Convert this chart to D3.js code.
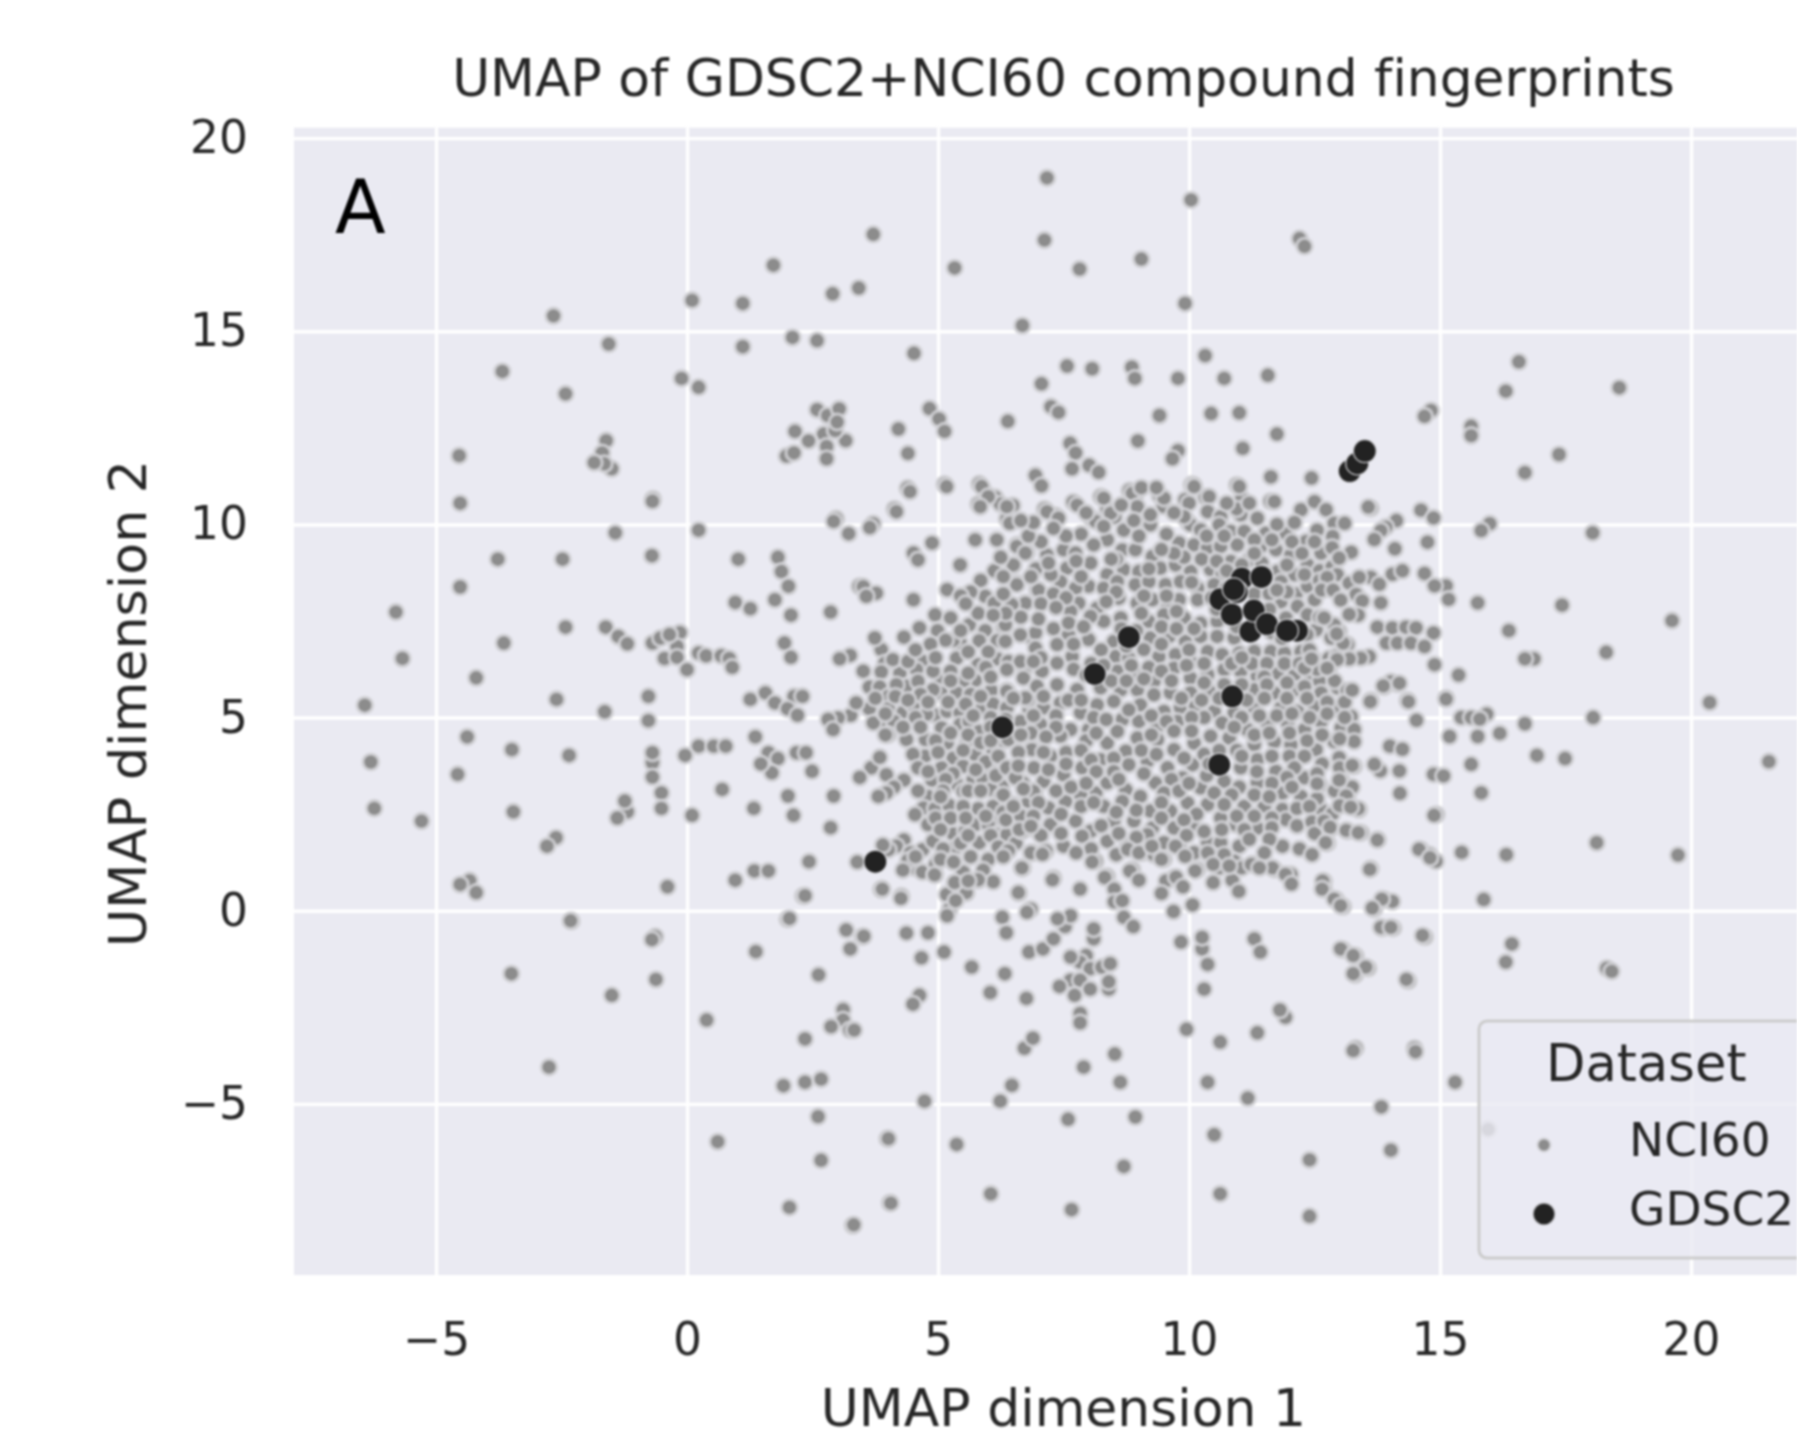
<!DOCTYPE html>
<html>
<head>
<meta charset="utf-8">
<style>
  html, body { margin: 0; padding: 0; background: #fff; overflow: hidden; }
  svg { display: block; filter: blur(1px); }
  text { font-family: "DejaVu Sans", sans-serif; fill: #262626; font-variant-ligatures: none; }
</style>
</head>
<body>
<svg id="chart" width="1797" height="1433"></svg>
<script src="https://cdn.jsdelivr.net/npm/d3@7"></script>
<script>
// UMAP coordinates, grouped by area of the plot
const nciUpper = [[7.17,18.97],[10.04,18.4],[7.12,17.36],[3.71,17.51],[12.2,17.4],[12.3,17.2],[1.72,16.71],[5.33,16.64],[7.82,16.61],[9.05,16.87],[.1,15.8],[1.11,15.72],[2.9,15.97],[3.42,16.12],[9.92,15.72],[6.68,15.15],[-2.66,15.4],[-1.56,14.67],[1.11,14.6],[2.1,14.84],[2.59,14.76],[4.52,14.43],[-3.68,13.96],[-.11,13.78],[.23,13.55],[-2.42,13.38],[7.57,14.1],[8.07,14.03],[8.86,14.07],[8.92,13.78],[7.06,13.64],[9.78,13.78],[7.25,13.05],[7.4,12.9],[9.41,12.82],[6.39,12.67],[4.83,13],[5.02,12.73],[5.13,12.41],[4.21,12.47],[4.4,11.84],[4.39,10.94],[5.13,11.04],[4.13,10.4],[2.97,10.15],[3.71,10.02],[-.68,10.66],[-1.61,12.17],[-1.69,11.85],[-1.5,11.44],[-1.65,11.57],[-1.85,11.6],
  [2.59,12.97],[2.8,12.82],[3.03,12.99],[2.15,12.41],[2.72,12.34],[2.42,12.16],[3.16,12.17],[2.78,12.02],[1.98,11.77],[2.13,11.85],[2.95,12.43],[2.78,11.7],[2.99,12.65],
  [7.63,12.1],[7.74,11.85],[7.67,11.44],[8.01,11.53],[8.2,11.35],[8.98,12.16],[9.78,11.91],[9.67,11.7],[6.94,11.27],[7.06,11],[5.82,11.05],[5.95,10.79],[6.14,10.7],[5.8,10.53],[6.24,10.53],[6.49,10.49],[6.37,10.15],[7.12,10.4],[7.34,10.23],[7.69,10.58],[8.24,10.72],[8.37,10.4],[8.52,10.19],[8.06,10.15],[8.81,10.88],[8.92,10.71],[9.41,10.75],[9.49,10.47],[9.92,10.64],[10.05,11.03],[9.16,10.06],[9.98,10.06],
  [10.32,14.37],[10.7,13.78],[11.57,13.86],[10.44,12.87],[11,12.89],[11.75,12.34],[11.07,11.97],[11.63,11.23],[12.44,11.2],[10.95,11.02],[11.05,10.67],[11.62,10.6],[10.09,11.02],[10.32,10.71]];

const nciLeft = [[-4.54,11.78],[-4.52,10.55],[-1.43,9.78],[.23,9.85],[-3.77,9.1],[-2.48,9.1],[-.7,9.19],[-.69,10.6],[1.02,9.1],[1.81,9.15],[1.88,8.78],[2.02,8.4],[1.75,8.05],[2.07,7.65],[2.92,10.08],[3.22,9.76],[3.64,9.92],[3.43,8.4],[2.86,7.73],[.96,7.98],[1.26,7.82],[-4.52,8.38],[-5.8,7.73],[-5.67,6.53],[-6.42,5.32],[-2.42,7.34],[-3.65,6.93],[-4.2,6.03],[-2.6,5.47],[-1.64,5.15],[-.77,5.55],[-.77,4.92],
  [-1.62,7.34],[-1.37,7.1],[-1.19,6.91],[-.69,6.93],[-.14,7.2],[-.2,6.84],[-.45,6.53],[-.2,6.56],[0,6.24],[-.53,7.06],[-.35,7.15],[.23,6.67],[.38,6.6],[.68,6.6],[.84,6.53],[.9,6.3],[1.94,6.93],[2.07,6.56],[1.26,5.47],[1.56,5.64],[1.75,5.38],[2.13,5.55],[2,5.23],[2.2,5.06],[2.3,5.55],
  [-4.38,4.5],[-3.49,4.17],[-2.35,4.02],[.23,4.26],[.53,4.26],[.77,4.26],[-.04,4.02],[1.36,4.5],[-.69,3.83],[-.69,4.09],[-.69,3.46],[-.51,3.05],[-.51,2.65],[-6.3,3.85],[-4.57,3.53],[-6.23,2.65],[-5.29,2.32],[-3.46,2.56],[-1.19,2.56],[-1.24,2.84],[-1.39,2.4],[.1,2.47],[.7,3.14],[1.33,2.65],[2.12,2.47],[2.01,2.97],[2.92,2.97],[2.86,2.15],[-2.61,1.89],[-2.79,1.67],[-4.33,.78],[-4.2,.47],[-4.52,.68],[-.39,.62],[1.34,1.03],[.96,.79],[1.62,1.03],[2.43,1.27],[3.39,1.26],[2.31,.38],[2,-.22],[-2.3,-.27],
  [1.62,4.09],[1.81,3.94],[2.18,4.09],[1.69,3.57],[1.47,3.8],[2.37,4.09],[2.49,3.61],
  [-2.32,-.26],[-.63,-.67],[-.7,-.75],[-3.5,-1.63],[-.62,-1.78],[-1.5,-2.19],[.39,-2.83],[-2.75,-4.05],[2.35,-3.32],[3.11,-2.56],[3.11,-2.83],[2.87,-3],[3.24,-3.09],[2.62,-1.66],[1.37,-1.06],[2.04,-.2],[3.17,-.5],[3.49,-.67],[3.25,-.99],[2.35,.39],[3.87,.56],[1.92,-4.53],[2.35,-4.44],[2.67,-4.36],[2.61,-5.33],[.61,-5.98],[3.99,-5.9],[2.67,-6.46],[2.04,-7.68],[4.04,-7.56],[3.3,-8.15],[3.52,-.66]];

const nciBlobLeft = [[4.44,10.85],[5.17,10.98],[5.87,10.98],[6,10.72],[6.37,10.46],[6.43,10.03],[5.84,10.46],[4.17,10.33],[4.88,9.52],[4.51,9.26],[4.6,9.08],[5.74,9.6],[6.17,9.6],[6.57,9.47],[6.77,9.28],[5.44,8.95],[6.12,8.8],[6.5,8.95],[6.57,8.48],[3.51,8.39],[3.77,8.22],[3.57,8.14],[4.51,8.05],[5.18,8.31],[5.94,8.14],[6.12,7.96],[6.47,7.9],[6.73,7.96],[6.97,8.31],
  [4.94,7.66],[5.25,7.58],[5.62,7.4],[5.94,7.25],[6.3,7.33],[4.63,7.32],[4.99,7.25],[4.32,7.08],[5.44,6.93],[5.82,6.99],[6.18,6.99],[6.87,7.06],[3.87,6.76],[3.74,7.06],[3.25,6.61],[3.04,6.52],[5.37,6.54],[6.18,6.52],[6.4,6.45],[6.73,6.28],[5.8,6.37],[4.7,6.45],[3.94,6.41],
  [3.51,6.2],[3.87,6.18],[4.24,6.15],[4.57,6.24],[5.07,5.96],[5.74,5.96],[6.06,5.7],[6.37,5.7],[5.5,5.94],[3.63,5.79],[3.84,5.79],[4.37,5.81],[4.01,5.55],[5.06,5.64],[5.37,5.64],[4.9,5.72],[4.17,5.85],[4.6,5.94],
  [3.63,5.23],[4.01,5.23],[4.31,5.14],[4.51,5.31],[4.94,5.06],[5.18,5.16],[5.44,5.12],[5.87,5.23],[6.82,5.2],[6.8,5.46],[4.77,5.08],[3.26,5.06],[3.01,4.99],[2.81,4.95],[2.91,4.69],[3.37,5.38],[3.94,4.82],[4.12,4.9],[3.71,4.86],[5.44,4.82],[5.62,4.9],[5.82,4.64],[5.07,4.73],[6.8,4.73],
  [4.01,4.56],[4.37,4.43],[4.75,4.43],[5.18,4.34],[5.57,4.34],[6.5,4.47],[6.87,4.21],[4.74,4],[5.3,3.95],[6.37,3.7],[5.74,4.04],[6.1,4.13],[6.57,3.7],[5.07,3.7],[6.05,3.61],[5.5,3.74],[5.7,3.39],[4.88,3.38],[5.37,3.28],[5.9,3.39],[6.27,3.22],[6.69,3.31],[6.93,3.09],
  [3.67,3.7],[3.44,3.45],[3.97,3.52],[3.84,3.97],[4.32,3.38],[4.12,3.2],[3.97,3.05],[3.81,2.96],[4.8,2.96],[6.05,3.14],[6.49,2.75],[5.5,3.09],[6.8,2.83],[4.71,2.66],[4.94,2.64],[5.22,2.73],[5.8,2.64],[4.54,2.49],[4.8,2.23],[6.18,2.4],[5.3,1.99],[5.54,2.06],[5.74,2.23],[6,2.23],[6.18,1.97],[6.37,1.97],[6.67,2.08],[6.87,2.14],
  [4.32,1.83],[4.17,1.67],[4.01,1.58],[4.69,1.58],[4.9,1.8],[5.82,1.76],[5.34,1.63],[6,1.33],[5.04,1.33],[5.3,1.27],[6.87,1.5],[4.54,1.11],[4.69,1],[4.94,.94],[6.69,1.11],[5.34,.7],[5.57,.76],[5.8,.79],[3.87,.55],[5.56,.46],[4.27,.38],[6.61,.46],[5.17,.42]];

const nciBlobLeftGaps = [[5.3,7],[5.6,6.7],[6,6.7],[5.25,6.2],[5.6,6.15],[5.95,6.3],[6.05,6.05],[4.1,6.5],[4.4,6.45],[4.9,6.2],[5.25,5.95],[6.1,5.35],[5.65,5.6],[5.85,5.55],[4.65,5.6],[4.15,5.55],[3.75,5.5],[4.8,5.4],[5.2,5.4],[5.55,5.35],[4.4,5.45],[3.95,5.1],[4.55,5],[5.7,5.05],[6.05,5],[3.95,4.55],[4.3,4.75],[4.65,4.75],[5.25,4.6],[5.6,4.55],[6.05,4.75],[6.3,4.4],[4.95,4.4],[5.85,4.35],[6.05,4.4],[5,4.1],[5.5,4.15],[5.95,3.85],[6.2,4],[4.5,4.05],[4.6,3.7],[4.8,3.6],[5.3,3.55],[5.75,3.65],[6.15,3.5],[5.15,3.4],[5.6,3.1],[5.85,3.1],[6.25,2.95],[5.1,3.1],[4.6,3.1],[5.05,2.95],[5.5,2.7],[6.1,2.7],[6.3,2.55],[4.95,2.4],[5.25,2.4],[5.55,2.4],[5.95,2.45],[6.35,2.35],[6.65,2.45],[5.05,2.1],[5.45,1.75],[5.6,1.95],[6.05,1.95],[6.55,1.75],[6.2,1.65],[4.45,1.5],[5.1,1.6],[5.65,1.4],[6.4,1.55],[5.9,1.05],[6.3,1.4],[4.4,1.3],[4.95,1.2],[5.5,1],[6.1,.75],[3.9,1.7],[4.3,1.05],[4.55,1.4]];

const nciCore = [[7.77,10.5],[7.17,10.33],[7.4,10.16],[8.3,10.68],[8.44,10.29],[8.14,10.08],[8.87,10.81],[9.5,10.68],[10,10.55],[10.1,10.98],[11,10.98],[10.4,10.72],[11.7,10.59],[12.23,10.38],[12.5,10.59],[12.73,10.38],[12.89,10.03],[12.86,9.69],[13.1,10.03],
  [9.23,9.99],[10.03,9.99],[10.37,10.33],[11.03,10.25],[11.36,10.16],[10.63,10.2],[8.97,10.46],[9.23,10.25],[10.23,9.86],[10.6,9.99],[10.83,9.82],[11.1,9.82],[11.53,9.77],[11.93,9.77],
  [6.57,9.43],[6.74,9.26],[7.17,9.21],[7.5,9.34],[7.74,9.26],[8.37,9.6],[8.1,9.47],[8.67,9.34],[8.93,9.34],[9.27,9.17],[9.8,9.52],[10.1,9.47],[10.37,9.39],[10.63,9.43],[10.96,9.47],[11.43,9.43],[11.73,9.34],[12.03,9.21],[12.33,9.56],[12.63,9.26],
  [6.5,8.95],[7.57,8.87],[8.04,9],[8.37,8.7],[8.7,8.83],[9,8.78],[9.43,8.87],[9.73,8.95],[10.03,8.78],[10.43,8.83],[10.83,9.04],[10.66,8.7],[11.2,9.08],[12.36,8.95],[12.1,8.7],[11.76,8.78],
  [7.44,8.52],[8,8.4],[7.74,8.35],[6.57,8.44],[7,8.3],[8.3,8.35],[8.57,8.52],[8.93,8.44],[9.2,8.52],[9.53,8.44],[9.83,8.52],[10.17,8.35],[10.5,8.44],[12.13,8.2],[11.83,8.52],[12.36,8.4],[12.66,8.31],
  [6.74,7.96],[6.47,7.92],[7.8,7.96],[8.17,7.83],[8.6,8.09],[8.97,7.96],[9.27,8.05],[9.8,8.05],[9.57,7.83],[10.17,8.05],[11.83,8],[12.16,7.88],[12.5,8.05],[7.64,7.75],
  [12.36,7.66],[8.64,7.58],[8.3,7.49],[8.04,7.62],[7.3,7.3],[6.94,7.19],[6.34,7.4],[9.2,7.49],[9.5,7.66],[9.9,7.58],[10.23,7.44],[10.56,7.49],[11.93,7.58],
  [6.64,7.14],[7.6,7.14],[8,7.02],[8.5,6.97],[9.23,7.06],[9.6,7.1],[9.93,6.97],[10.23,7.1],[10.56,7.1],[10.9,7.06],[12.53,7.27],[12.83,7.06],[12.99,7.23],[13.16,6.89],[12.89,7.4],
  [6.34,6.97],[6.94,6.8],[7.37,6.89],[7.67,6.58],[8.54,6.58],[8.8,6.54],[9.1,6.76],[9.4,6.58],[9.73,6.63],[10.03,6.45],[10.37,6.71],[10.66,6.63],[11,6.67],[11.3,6.71],[11.63,6.71],[11.9,6.67],[12.23,6.71],[12.5,6.5],[12.79,6.54],
  [6.64,6.45],[7.37,6.41],[7.07,6.2],[6.37,6.24],[8.57,6.2],[8.93,6.15],[9.3,5.94],[9.7,6.28],[10.03,6.02],[10.37,6.11],[10.7,6.24],[11.03,6.2],[11.36,6.07],[11.76,6.15],[12.1,6.11],[12.43,6.02],[12.79,6.28],[12.6,5.94],
  [6.37,5.68],[6.7,6.02],[6.97,5.81],[7.37,5.85],[7.77,5.72],[8.24,5.77],[8.64,5.72],[8.97,5.72],[9.3,5.59],[9.63,5.64],[10.03,5.64],[10.4,5.68],[11.3,5.72],[11.7,5.64],[12.1,5.72],[12.63,5.64],[12.96,5.77],
  [6.37,5.25],[6.74,5.51],[7.1,5.25],[7.44,5.38],[7.84,5.12],[8.17,5.33],[8.5,5.42],[9.03,5.33],[9.5,5.16],[9.83,5.25],[10.13,5.29],[10.5,5.16],[10.9,5.12],[11.3,5.25],[11.83,5.25],[12.16,5.16],[12.5,5.29],[12.89,5.25],[13.23,5.03],
  [6.64,4.9],[7.04,4.82],[7.64,4.69],[8,4.69],[8.67,4.95],[9,4.9],[9.37,4.77],[9.77,4.9],[10.3,5],[10.66,4.86],[11.16,4.69],[11.56,4.86],[11.96,4.86],[12.3,4.69],[12.63,4.9],[13.03,4.73],[13.29,4.69],
  [6.87,4.17],[6.4,4.43],[7.44,4.52],[8.37,4.34],[8.57,4.64],[8.97,4.47],[9.37,4.43],[9.7,4.17],[10.1,4.34],[10.43,4.52],[10.8,4.47],[11.3,4.3],[11.7,4.38],[12.03,4.3],[12.53,4.17],[12.89,4.38],[13.29,4.38],
  [6.37,3.7],[6.91,3.7],[7.24,4],[7.87,3.7],[8.24,3.91],[8.74,4.13],[8.8,3.78],[9.17,3.87],[9.57,3.7],[10.07,3.78],[11.03,3.7],[11.36,3.91],[11.73,3.61],[12,4],[12.3,3.44],[12.99,3.96],[13.29,3.74],
  [6.54,3.44],[7.1,3.35],[7.5,3.52],[8.14,3.05],[8.37,3.31],[8.74,3.13],[9.03,2.96],[9.33,3.31],[9.87,3.44],[10.23,3.18],[10.7,3.35],[11,3.2],[11.36,3.31],[11.86,3.05],[12.23,2.96],[12.6,3.26],[13.03,3.39],
  [6.3,3],[6.5,2.7],[6.9,3.09],[7.2,2.66],[7.54,2.83],[7.84,3],[8.3,2.7],[8.67,2.83],[9.23,2.58],[9.63,2.58],[9.97,2.79],[10.37,2.75],[10.63,2.4],[11.1,2.7],[11.5,2.7],[11.86,2.62],[12.63,2.62],[13.16,2.96],[13.03,2.75],[13.39,2.62],
  [7.24,2.23],[7.74,2.32],[8.04,2.06],[8.5,2.32],[8.9,2.32],[9.27,2.14],[9.7,2.14],[10.07,2.23],[10.93,2.23],[11.36,2.14],[11.93,2.36],[12.83,2.14],[13.16,2.06],[13.43,2.02],[13.76,1.84],
  [6.87,2.14],[6.67,2.06],[7.5,1.67],[7.87,1.93],[8.37,1.8],[8.77,1.67],[9.17,1.97],[9.5,1.76],[9.8,1.67],[10.37,1.76],[10.63,1.76],[11,1.67],[11.86,1.67],[12.76,1.75],
  [6.87,1.5],[6.67,1.11],[8.14,1.28],[8.87,1.07],[9.07,1.5],[9.5,1.33],[10.17,1.07],[10.43,1.45],[10.6,1.11],[10.9,1.28],[11.3,1.2],[11.7,1.07],[12.03,.94],[7.3,.85],[8.37,.89],[9.7,.85]];

const nciCoreGaps = [[8.7,9.85],[9,9.7],[9.55,9.75],[9.9,10.2],[10.95,10.4],[11.3,9.6],[11.75,10],[12.1,10.05],[12.55,9.85],[7.85,9.75],[7.55,9.7],[8.9,10.1],
  [6.95,8.85],[7.25,8.7],[7.85,8.65],[8.55,9.1],[9.2,8.85],[9.9,9.15],[10.25,9.1],[10.55,9.05],[11.05,8.95],[11.45,9],[11.95,8.95],[12.6,8.8],[12.85,8.9],[6.85,8.65],[7.2,9],
  [7.3,8.2],[7.55,8.1],[8.55,8.25],[9.1,8.15],[9.55,8.15],[10.45,8.1],[10.75,8.35],[11.3,8.2],[11.6,8.2],[11.95,8.25],[6.3,8.2],[7.05,7.95],[7.35,7.85],[8.35,8],[9.05,7.7],[9.75,7.75],[10.55,7.8],[10.85,7.55],[11.6,7.8],[12.1,7.35],[12.35,7.15],[12.6,7.6],[7,7.55],[7.6,7.45],[7.9,7.35],[8.65,7.3],[8.95,7.25],[9.45,7.35],[9.75,7.3],[10.1,7.3],[10.95,7.35],[11.65,7.2],[11.85,7.05],[6.65,7.6],[6.35,7.7],
  [7.05,6.55],[7.7,6.9],[8.25,6.75],[8.05,6.4],[8.3,6.35],[8.75,6.85],[9.45,6.9],[10,6.75],[10.85,6.4],[11.25,6.4],[11.55,6.4],[11.9,6.4],[12.2,6.4],[12.55,6.25],[12.95,6.6],[12.4,6.75],[7.7,6.25],[7.95,6.1],[8.85,6.35],[9.2,6.3],[9.45,6.2],[9.95,6.35],[10.3,6.4],[11.05,6.55],[11.5,6.05],[12.3,6.28],[6.9,6.45],
  [7.1,5.55],[7.6,5.45],[7.85,5.45],[8.45,5.95],[8.75,5.95],[9.1,6],[9.65,5.95],[10.3,5.9],[10.7,5.85],[11.05,5.85],[11.55,5.85],[11.95,5.9],[12.3,5.8],[12.9,5.95],[13.15,5.7],[9.85,5.5],[10.25,5.45],[10.6,5.5],[11.15,5.45],[11.5,5.5],[11.95,5.5],[12.35,5.5],[12.75,5.4],[13.1,5.4],[6.5,5.5],
  [7.35,5.05],[6.9,5.05],[8.1,5],[8.35,4.95],[8.8,5.2],[9.25,5.05],[9.55,4.9],[10.05,5],[11.05,5],[11.4,5.05],[11.75,5.05],[12.05,5.1],[12.4,5],[12.75,5.1],[13.1,5],[6.35,4.95],[7.35,4.75],[6.85,4.6],[7.15,4.5],[7.95,4.4],[8.15,4.6],[9.25,4.55],[9.7,4.65],[10.05,4.65],[10.9,4.75],[11.3,4.55],[11.6,4.6],[12,4.6],[12.35,4.4],[12.65,4.55],[13,4.45],[6.65,4.55],
  [6.6,4.1],[7.1,4.1],[7.55,4.1],[7.85,4.15],[8.05,3.9],[8.5,3.95],[9.05,4.15],[9.35,4.05],[9.9,3.95],[10.3,4.05],[10.6,4.15],[10.95,4.15],[11.05,4],[11.65,4],[12.3,4],[12.65,3.8],[13,3.7],[12.1,3.7],[11.95,3.45],[6.6,3.75],[7.2,3.65],[7.55,3.8],[8.15,3.6],[8.5,3.6],[9.1,3.55],[9.65,3.4],[10.35,3.5],[10.4,3.8],[11.35,3.6],[11.65,3.3],[12.55,3.55],
  [6.7,3.15],[7.35,3.1],[7.65,3.2],[7.95,3.3],[8.6,3.4],[9.5,3.05],[9.8,3.1],[10,3.3],[10.5,3.05],[10.85,3],[11.3,3],[11.6,2.95],[12.05,3.2],[12.55,2.9],[12.9,3.1],[13.25,3.2],[7,2.8],[7.85,2.7],[8.1,2.8],[8.55,2.55],[8.95,2.6],[9.45,2.8],[10.15,2.5],[10.7,2.75],[10.95,2.45],[11.3,2.45],[11.65,2.4],[12.15,2.65],[12.4,2.7],[12.85,2.5],[6.9,2.45],[7.45,2.5],
  [7.45,2],[7.05,1.95],[8.25,2.2],[8.6,2],[8.95,1.9],[9.45,2.4],[9.9,2.35],[9.95,1.95],[10.3,2.05],[10.65,2.1],[11.1,2.1],[11.2,1.85],[11.65,2.15],[11.6,1.85],[12.15,2.2],[12.45,2.3],[12.5,2],[8.05,1.6],[8.55,1.45],[9.3,1.45],[10.1,1.5],[10.7,1.45],[11.5,1.5],[12.2,1.6],[12.45,1.45],[7.75,1.5],[7.15,1.55]];

const nciTopGaps = [[7.05,9.55],[7.3,9.9],[7.95,10.3],[8.3,9.95],[8.65,10.5],[9.05,10.95],[9.35,10.95],[9.7,10.3],[9.7,9.25],[10.35,9.7],[10.7,9.7],[10.75,10.55],[11.2,10.55],[11.3,9.25],[11.65,9.6],[12.05,9.55],[12.25,9.25],[12.5,9.55],[12.85,9.4],[12.95,8.7],[11.5,8.75],[11.75,8.3],[12.3,8.7],[12.6,8.55],[6.25,9.15],[6.3,8.65],[5.85,8.55],[5.65,8.25],[5.45,8.15],[5.8,7.7],[6.1,7.65],[5.45,7.25],[5.15,7],[4.85,6.9],[4.55,6.75],[4.95,6.55],[5.55,7.95],[6.8,9.7],[6.9,10.05],[6.65,10.1],[7.75,9.05],[8.45,9.1],[9.45,9.35],[10.05,8.5],[10.75,8.8]];

const nciRight = [[13.62,10.42],[13.23,9.28],[12.99,9.13],[13.57,10.45],[14.62,10.37],[14.87,10.17],[14.13,10.1],[13.92,9.93],[13.82,9.84],[13.69,9.61],[14.75,9.54],[14.1,9.37],[14.69,8.73],[15.12,8.41],[14.89,8.41],[15.17,8.06],[15.75,7.97],[17.43,7.91],[16.37,7.25],[19.62,7.51],[16.87,6.52],[16.69,6.52],[18.31,6.69],[14.89,6.37],[15.37,6.1],[14.15,5.87],[13.89,5.8],[14.02,5.93],[15.12,5.5],[13.25,5.71],[13.62,5.45],[14.35,5.45],
  [14.82,12.95],[14.69,12.8],[16.57,14.21],[16.31,13.45],[18.57,13.54],[15.62,12.54],[15.62,12.3],[17.37,11.81],[16.69,11.34],[15.99,10.02],[15.82,9.84],[18.04,9.78],
  [14.05,8.71],[13.62,8.63],[14.25,8.8],[13.79,8.45],[12.75,8.63],[13.19,8.48],[13.39,8.63],[12.64,8.3],[12.87,8.3],[13.33,8.19],[13.02,8.04],[13.82,7.97],[13.45,8.02],[13.37,7.65],[13.19,7.67],[12.69,7.58],
  [13.75,7.34],[14.05,7.32],[14.32,7.34],[14.52,7.32],[14.87,7.19],[13.93,6.93],[14.15,6.93],[14.42,6.93],[14.69,6.84],[13.59,6.58],[13.42,6.54],[13.19,6.52],[12.95,6.5],[12.44,6.52],[12.75,6.28],[13.07,6.93],[12.94,7.17],
  [20.37,5.39],[18.05,5],[21.55,3.86],[13.87,5.82],[14.19,5.89],[13.61,5.41],[14.37,5.41],[15.12,5.48],[14.53,4.93],[15.42,5],[15.62,5],[15.93,5.09],[15.79,4.96],[16.69,4.84],[15.19,4.51],[15.75,4.51],[16.19,4.59],[14,4.26],[14.25,4.18],[16.93,4.02],[17.49,3.94],[15.62,3.79],[13.81,3.62],[13.69,3.79],[14.19,3.62],[14.87,3.53],[15.07,3.49],[14.2,3.04],[15.82,3.05],[14.93,2.49],[13.25,3.76],[12.99,3.38],[12.55,3.29],[13.13,2.97],[13,2.72],[13.37,2.64],[13.22,2.68],
  [12.69,2.32],[12.81,2.16],[13.13,2.08],[13.37,2.02],[13.75,1.83],[12.74,1.76],[18.12,1.76],[19.74,1.44],[14.62,1.58],[14.79,1.45],[14.92,1.28],[15.43,1.51],[16.32,1.45],[13.62,1.09],[12.69,.76],[12.69,.56],[12.93,.29],[13.07,.11],[13.89,.29],[14.05,.24],[13.69,.04],[15.87,.29],[13.85,-.45],[14.07,-.45],[14.7,-.68],[16.43,-.86],[16.31,-1.33],[18.32,-1.49],[18.42,-1.57],[13.07,-1.01],[13.32,-1.17],[13.57,-1.49],[13.31,-1.66],[14.37,-1.82],[13.32,-3.56],[14.49,-3.56],[15.3,-4.44],[15.96,-5.66]];

const nciLower = [[3.89,.56],[4.26,.32],[4.93,.93],[5.05,1.33],[5.31,1.26],[5.8,.8],[5.56,.47],[5.33,.73],[5.6,.77],[5.23,.04],[5.18,-.13],[5.35,.26],[6.62,2.1],[6.85,2.19],[6.85,1.5],[7.08,1.46],[6.67,1.11],[6.6,.47],[7.28,.8],[7.83,.56],[6.85,.04],[6.77,-.04],[6.28,-.17],[6.36,-.57],[4.37,-.58],[4.8,-.57],[5.12,-1.07],[4.67,-1.22],[5.67,-1.46],[6.33,-1.63],[6.81,-1.07],[7.09,-.99],[7.3,-.73],[7.53,-.41],[7.64,-.13],[7.38,-.21],
  [8.07,1.26],[8.32,.86],[8.51,.56],[8.51,.23],[8.67,.26],[8.7,-.17],[8.89,-.41],[8.1,-.73],[8.1,-.47],[8.78,1.59],[9,1.5],[9.26,1.67],[8.82,1.03],[9,.79],[9.45,1.33],[9.73,1.67],[10.37,1.5],[9.92,1.41],[9.54,.77],[9.74,.87],[9.88,.62],[9.45,.45],[10.12,1.03],[10.48,1.2],[10.48,.73],[10.86,.79],[10.99,.5],[11.05,1.11],[11.24,1.2],[11.66,1.11],[11.92,.94],[12.04,.69],[10.8,1.16],[11.4,1.11],
  [9.69,-.02],[10.07,.15],[9.84,-.81],[10.26,-.99],[10.26,-.69],[10.37,-1.39],[11.3,-.73],[11.42,-1.07],[12.72,1.76],[14.88,2.47],[12.66,.77],[12.65,.56],[12.89,.3],[13.02,.13],[13.6,1.07],[13.84,.3],[13.65,.07],[14.58,1.59],[14.8,1.37],[13.82,-.43],[14.02,-.43],[14.65,-.64],[13.02,-.99],[13.27,-1.16],[13.52,-1.46],[13.27,-1.63],[14.33,-1.78],
  [7.95,-1.16],[7.83,-1.33],[7.64,-1.2],[8.03,-1.5],[8.26,-1.46],[8.43,-1.37],[7.64,-1.8],[7.83,-1.8],[8.03,-2.03],[8.4,-2.03],[8.4,-1.84],[7.42,-1.96],[7.72,-2.19],[7.83,-2.66],[7.83,-2.9],[10.3,-2.03],[4.63,-2.19],[4.5,-2.42],[6.04,-2.12],[6.76,-2.27],
  [3.33,-3.09],[6.72,-3.56],[6.89,-3.3],[8.52,-3.71],[7.9,-4.05],[8.63,-4.44],[6.47,-4.52],[6.24,-4.93],[4.73,-4.93],[9.95,-3.07],[10.62,-3.4],[11.36,-3.16],[11.92,-2.76],[11.81,-2.57],[13.27,-3.62],[14.51,-3.65],[10.37,-4.44],[11.17,-4.85],[13.83,-5.08],
  [7.59,-5.4],[8.93,-5.34],[10.5,-5.8],[12.4,-6.45],[14.02,-6.2],[8.7,-6.62],[4.01,-5.9],[5.37,-6.05],[6.05,-7.33],[4.06,-7.57],[7.66,-7.74],[10.62,-7.33],[12.4,-7.91],[3.32,-8.13]];

const gdsc2 = [[3.75,1.27],[6.28,4.75],[8.12,6.13],[8.8,7.08],[10.6,3.78],[10.86,5.55],[10.62,8.06],[11.05,8.6],[10.85,7.67],[11.22,7.23],[11.29,7.77],[10.95,8.25],[10.89,8.32],[11.44,8.64],[11.55,7.42],[12.15,7.25],[11.95,7.25],[13.2,11.38],[13.35,11.58],[13.5,11.9]];

const nci60 = [...nciUpper, ...nciLeft, ...nciBlobLeft, ...nciBlobLeftGaps, ...nciCore, ...nciCoreGaps, ...nciTopGaps, ...nciRight, ...nciLower];

const xTicks = [-5, 0, 5, 10, 15, 20];
const yTicks = [-5, 0, 5, 10, 15, 20];
const datasets = ["NCI60", "GDSC2"];

const svg = d3.select("#chart");
const textColor = "#262626";

const x = d3.scaleLinear().domain([-7.83, 22.11]).range([294, 1797]);
const y = d3.scaleLinear().domain([-9.43, 20.27]).range([1275, 127.7]);

svg.append("rect")
    .attr("x", 294)
    .attr("y", 127.7)
    .attr("width", 1797 - 294)
    .attr("height", 1275 - 127.7)
    .attr("fill", "#eaeaf2");

const xAxis = d3.axisBottom(x).tickValues(xTicks).tickSize(-(1275 - 127.7)).tickPadding(48);
const yAxis = d3.axisLeft(y).tickValues(yTicks).tickSize(-(1797 - 294)).tickPadding(46);

const gx = svg.append("g").attr("transform", "translate(0,1275)").call(xAxis);
const gy = svg.append("g").attr("transform", "translate(294,0)").call(yAxis);

[gx, gy].forEach(g => {
    g.select(".domain").remove();
    g.selectAll(".tick line").attr("stroke", "#fff").attr("stroke-width", 3.4);
    g.selectAll(".tick text")
        .style("font-size", "45.5px")
        .style("font-family", '"DejaVu Sans", sans-serif')
        .attr("fill", textColor);
});

svg.append("g")
    .selectAll("circle")
    .data(nci60)
    .join("circle")
    .attr("cx", d => x(d[0]))
    .attr("cy", d => y(d[1]))
    .attr("r", 8)
    .attr("fill", "#8c8c8c")
    .attr("stroke", "#d4d4d8")
    .attr("stroke-opacity", 0.75)
    .attr("stroke-width", 3.6);

svg.append("g")
    .selectAll("circle")
    .data(gdsc2)
    .join("circle")
    .attr("cx", d => x(d[0]))
    .attr("cy", d => y(d[1]))
    .attr("r", 11.5)
    .attr("fill", "#222")
    .attr("stroke", "#dcdce0")
    .attr("stroke-opacity", 0.8)
    .attr("stroke-width", 1.5);

svg.append("text")
    .attr("x", 1063.5)
    .attr("y", 96)
    .attr("text-anchor", "middle")
    .style("font-size", "51.9px")
    .text("UMAP of GDSC2+NCI60 compound fingerprints");

svg.append("text")
    .attr("x", 1063.5)
    .attr("y", 1426)
    .attr("text-anchor", "middle")
    .style("font-size", "52px")
    .text("UMAP dimension 1");

svg.append("text")
    .attr("transform", "translate(146,703.5) rotate(-90)")
    .attr("text-anchor", "middle")
    .style("font-size", "52.2px")
    .text("UMAP dimension 2");

svg.append("text")
    .attr("x", 335)
    .attr("y", 232.7)
    .style("font-size", "74px")
    .style("fill", "#000")
    .text("A");

// legend runs off the right edge of the picture
const legend = svg.append("g");

legend.append("rect")
    .attr("x", 1479)
    .attr("y", 1021)
    .attr("width", 400)
    .attr("height", 237)
    .attr("rx", 8)
    .attr("fill", "#eaeaf2")
    .attr("fill-opacity", 0.8)
    .attr("stroke", "#cccccc")
    .attr("stroke-width", 3);

legend.append("text")
    .attr("x", 1546)
    .attr("y", 1081)
    .style("font-size", "51.2px")
    .text("Dataset");

const legendRows = legend.selectAll("g.row")
    .data(datasets)
    .join("g")
    .attr("class", "row")
    .attr("transform", (d, i) => `translate(0,${1145 + i * 69})`);

legendRows.append("circle")
    .attr("cx", 1544)
    .attr("cy", 0)
    .attr("r", d => d === "NCI60" ? 6.5 : 11)
    .attr("fill", d => d === "NCI60" ? "#8c8c8c" : "#222")
    .attr("stroke", "#d4d4d8")
    .attr("stroke-opacity", 0.75)
    .attr("stroke-width", d => d === "NCI60" ? 2.5 : 1.5);

legendRows.append("text")
    .attr("x", 1629)
    .attr("y", 11)
    .style("font-size", "47px")
    .text(d => d);
</script>
</body>
</html>
